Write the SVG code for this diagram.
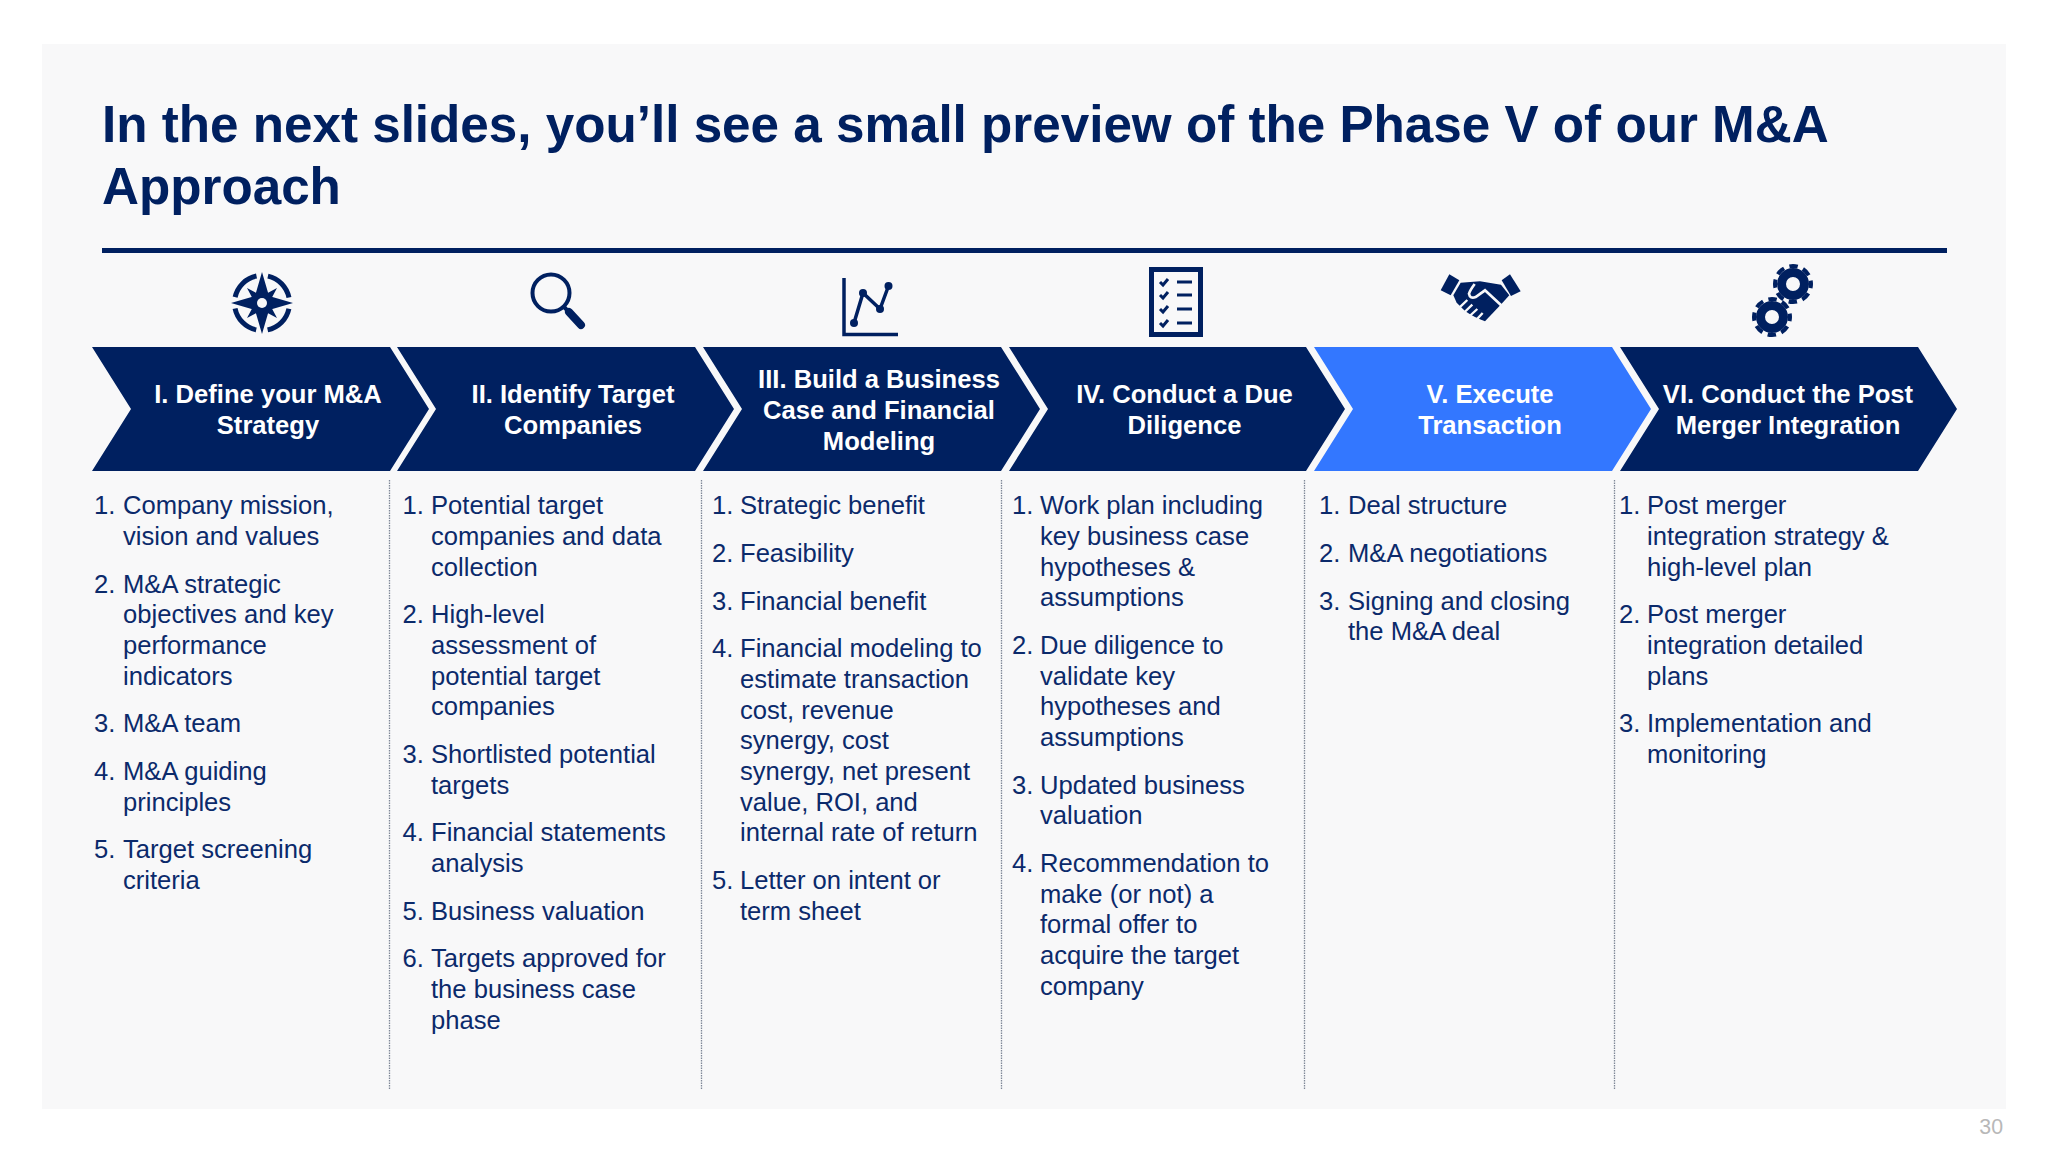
<svg xmlns="http://www.w3.org/2000/svg" width="2048" height="1152" viewBox="0 0 2048 1152">
<style>
text{font-family:"Liberation Sans",Arial,sans-serif}
.t{font-size:51.2px;font-weight:700;fill:#002060}
.h{font-size:25.6px;font-weight:700;fill:#fff;text-anchor:middle}
.b{font-size:25.6px;fill:#0b2a6b}
.c{fill:#002060}
.sep{stroke:#7f8797;stroke-width:1.300;stroke-dasharray:1.500 1;fill:none}
.ink{fill:#002060}
.ln{fill:none;stroke:#002060}
</style>
<defs>
<g id="gear"><circle r="11.5" fill="none" stroke="#002060" stroke-width="9"/><circle r="18" fill="none" stroke="#002060" stroke-width="4" stroke-dasharray="8.500 5.640" stroke-dashoffset="4.250"/></g>
</defs>
<rect width="2048" height="1152" fill="#fff"/>
<rect x="42" y="44" width="1964" height="1065" fill="#f8f8f9"/>
<g id="title">
<text class="t" x="102" y="142">In the next slides, you’ll see a small preview of the Phase V of our M&amp;A</text>
<text class="t" x="102" y="204">Approach</text>
<rect x="102" y="248" width="1845" height="5" fill="#002060"/>
</g>
<g id="connectors">
<path class="sep" d="M389.500 480V1090M701.500 480V1090M1001.500 480V1090M1304.500 480V1090M1614.500 480V1090"/>
</g>
<g id="icon-compass">
<circle cx="262" cy="303" r="27.5" fill="none" stroke="#002060" stroke-width="5" stroke-dasharray="31.7 11.5" stroke-dashoffset="-5.76"/>
<polygon points="247,288 262,296 277,288 269,303 277,318 262,310 247,318 255,303" class="ink"/>
<polygon points="262,272 269,296 293,303 269,310 262,334 255,310 231,303 255,296" class="ink"/>
<circle cx="262" cy="303" r="5" fill="#f8f8f9"/>
</g>
<g id="icon-search">
<circle cx="551" cy="293" r="18.5" fill="none" stroke="#002060" stroke-width="4"/>
<path d="M564 307L570 313" class="ln" stroke-width="4"/>
<path d="M569 312L581 325" class="ln" stroke-width="8" stroke-linecap="round"/>
</g>
<g id="icon-chart">
<path d="M844 278V334.500H898" class="ln" stroke-width="3.500"/>
<path d="M854 323L863 293L880 309L888.500 286" class="ln" stroke-width="3.500"/>
<circle cx="854" cy="323" r="4" class="ink"/><circle cx="863" cy="293" r="4" class="ink"/><circle cx="880" cy="309" r="4" class="ink"/><circle cx="888.500" cy="286" r="4" class="ink"/>
</g>
<g id="icon-checklist">
<rect x="1151.500" y="269.500" width="49" height="65" fill="none" stroke="#002060" stroke-width="5"/>
<path d="M1160 282l3 3 5-6M1160 295l3 3 5-6M1160 309l3 3 5-6M1160 323l3 3 5-6" class="ln" stroke-width="3"/>
<path d="M1177 282h15M1177 295h15M1177 309h15M1177 323h15" class="ln" stroke-width="3"/>
</g>
<g id="icon-handshake" transform="translate(1430 262) scale(.3333)">
<polygon class="ink" points="58,37 88,55 62,100 32,85"/>
<polygon class="ink" points="240,37 272,88 243,102 215,55"/>
<polygon class="ink" points="92,62 150,58 213,68 238,100 215,125 165,178 150,172 135,165 120,157 105,147 80,122 70,100"/>
<path d="M134 66Q120 85 117 95Q120 112 137 105L165 85L216 132" fill="none" stroke="#f8f8f9" stroke-width="8"/>
<path d="M88 137L112 114M104 150L127 128M119 162L142 141M137 176L158 153" fill="none" stroke="#f8f8f9" stroke-width="7"/>
</g>
<g id="icon-gears">
<use href="#gear" x="1793" y="284"/>
<use href="#gear" x="1772" y="317"/>
</g>
<g id="node-1">
<polygon class="c" points="92,347 390,347 429,409 390,471 92,471 131,409"/>
<text class="h" x="268" y="403">I. Define your M&amp;A</text><text class="h" x="268" y="434">Strategy</text>
</g>
<g id="node-2">
<polygon class="c" points="397,347 695,347 734,409 695,471 397,471 436,409"/>
<text class="h" x="573" y="403">II. Identify Target</text><text class="h" x="573" y="434">Companies</text>
</g>
<g id="node-3">
<polygon class="c" points="703,347 1001,347 1040,409 1001,471 703,471 742,409"/>
<text class="h" x="879" y="388">III. Build a Business</text><text class="h" x="879" y="419">Case and Financial</text><text class="h" x="879" y="450">Modeling</text>
</g>
<g id="node-4">
<polygon class="c" points="1009,347 1306,347 1345,409 1306,471 1009,471 1048,409"/>
<text class="h" x="1184.500" y="403">IV. Conduct a Due</text><text class="h" x="1184.500" y="434">Diligence</text>
</g>
<g id="node-5">
<polygon fill="#3377ff" points="1314,347 1612,347 1651,409 1612,471 1314,471 1353,409"/>
<text class="h" x="1490" y="403">V. Execute</text><text class="h" x="1490" y="434">Transaction</text>
</g>
<g id="node-6">
<polygon class="c" points="1620,347 1918,347 1957,409 1918,471 1620,471 1659,409"/>
<text class="h" x="1788" y="403">VI. Conduct the Post</text><text class="h" x="1788" y="434">Merger Integration</text>
</g>
<g id="list-1" transform="translate(0 .4)">
<text class="b" x="94" y="514">1.</text><text class="b" x="123" y="514">Company mission,</text><text class="b" x="123" y="544.700">vision and values</text>
<text class="b" x="94" y="592.300">2.</text><text class="b" x="123" y="592.300">M&amp;A strategic</text><text class="b" x="123" y="623">objectives and key</text><text class="b" x="123" y="653.700">performance</text><text class="b" x="123" y="684.300">indicators</text>
<text class="b" x="94" y="732">3.</text><text class="b" x="123" y="732">M&amp;A team</text>
<text class="b" x="94" y="779.700">4.</text><text class="b" x="123" y="779.700">M&amp;A guiding</text><text class="b" x="123" y="810.400">principles</text>
<text class="b" x="94" y="858">5.</text><text class="b" x="123" y="858">Target screening</text><text class="b" x="123" y="888.700">criteria</text>
</g>
<g id="list-2" transform="translate(0 .4)">
<text class="b" x="402.500" y="514">1.</text><text class="b" x="431" y="514">Potential target</text><text class="b" x="431" y="544.700">companies and data</text><text class="b" x="431" y="575.300">collection</text>
<text class="b" x="402.500" y="623">2.</text><text class="b" x="431" y="623">High-level</text><text class="b" x="431" y="653.700">assessment of</text><text class="b" x="431" y="684.300">potential target</text><text class="b" x="431" y="715">companies</text>
<text class="b" x="402.500" y="762.700">3.</text><text class="b" x="431" y="762.700">Shortlisted potential</text><text class="b" x="431" y="793.400">targets</text>
<text class="b" x="402.500" y="841">4.</text><text class="b" x="431" y="841">Financial statements</text><text class="b" x="431" y="871.700">analysis</text>
<text class="b" x="402.500" y="919.300">5.</text><text class="b" x="431" y="919.300">Business valuation</text>
<text class="b" x="402.500" y="967">6.</text><text class="b" x="431" y="967">Targets approved for</text><text class="b" x="431" y="997.700">the business case</text><text class="b" x="431" y="1028.300">phase</text>
</g>
<g id="list-3" transform="translate(0 .4)">
<text class="b" x="712" y="514">1.</text><text class="b" x="740" y="514">Strategic benefit</text>
<text class="b" x="712" y="561.700">2.</text><text class="b" x="740" y="561.700">Feasibility</text>
<text class="b" x="712" y="609.300">3.</text><text class="b" x="740" y="609.300">Financial benefit</text>
<text class="b" x="712" y="657">4.</text><text class="b" x="740" y="657">Financial modeling to</text><text class="b" x="740" y="687.700">estimate transaction</text><text class="b" x="740" y="718.300">cost, revenue</text><text class="b" x="740" y="749">synergy, cost</text><text class="b" x="740" y="779.700">synergy, net present</text><text class="b" x="740" y="810.300">value, ROI, and</text><text class="b" x="740" y="841">internal rate of return</text>
<text class="b" x="712" y="888.700">5.</text><text class="b" x="740" y="888.700">Letter on intent or</text><text class="b" x="740" y="919.400">term sheet</text>
</g>
<g id="list-4" transform="translate(0 .4)">
<text class="b" x="1012" y="514">1.</text><text class="b" x="1040" y="514">Work plan including</text><text class="b" x="1040" y="544.700">key business case</text><text class="b" x="1040" y="575.300">hypotheses &amp;</text><text class="b" x="1040" y="606">assumptions</text>
<text class="b" x="1012" y="653.700">2.</text><text class="b" x="1040" y="653.700">Due diligence to</text><text class="b" x="1040" y="684.400">validate key</text><text class="b" x="1040" y="715">hypotheses and</text><text class="b" x="1040" y="745.700">assumptions</text>
<text class="b" x="1012" y="793.300">3.</text><text class="b" x="1040" y="793.300">Updated business</text><text class="b" x="1040" y="824">valuation</text>
<text class="b" x="1012" y="871.700">4.</text><text class="b" x="1040" y="871.700">Recommendation to</text><text class="b" x="1040" y="902.400">make (or not) a</text><text class="b" x="1040" y="933">formal offer to</text><text class="b" x="1040" y="963.700">acquire the target</text><text class="b" x="1040" y="994.400">company</text>
</g>
<g id="list-5" transform="translate(0 .4)">
<text class="b" x="1319" y="514">1.</text><text class="b" x="1348" y="514">Deal structure</text>
<text class="b" x="1319" y="561.700">2.</text><text class="b" x="1348" y="561.700">M&amp;A negotiations</text>
<text class="b" x="1319" y="609.300">3.</text><text class="b" x="1348" y="609.300">Signing and closing</text><text class="b" x="1348" y="640">the M&amp;A deal</text>
</g>
<g id="list-6" transform="translate(0 .4)">
<text class="b" x="1619" y="514">1.</text><text class="b" x="1647" y="514">Post merger</text><text class="b" x="1647" y="544.700">integration strategy &amp;</text><text class="b" x="1647" y="575.300">high-level plan</text>
<text class="b" x="1619" y="623">2.</text><text class="b" x="1647" y="623">Post merger</text><text class="b" x="1647" y="653.700">integration detailed</text><text class="b" x="1647" y="684.300">plans</text>
<text class="b" x="1619" y="732">3.</text><text class="b" x="1647" y="732">Implementation and</text><text class="b" x="1647" y="762.700">monitoring</text>
</g>
<text x="2003" y="1134" text-anchor="end" font-size="21.330" fill="#b8b8b8">30</text>
</svg>
